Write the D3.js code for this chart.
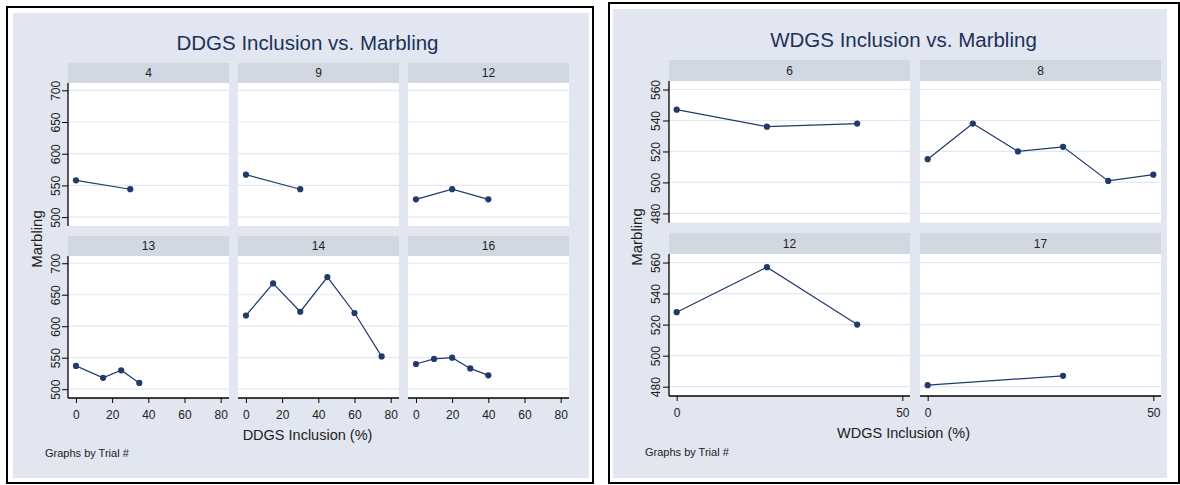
<!DOCTYPE html>
<html>
<head>
<meta charset="utf-8">
<script src="https://cdn.jsdelivr.net/npm/d3@7"></script>
<style>
  html, body { margin: 0; padding: 0; background: #ffffff; }
  svg { display: block; font-family: "Liberation Sans", Arial, sans-serif; }
</style>
</head>
<body>
<svg id="chart" width="1180" height="485"></svg>
<script>
// ---------- DATA ----------
const ddgsTitle = "DDGS Inclusion vs. Marbling";
const ddgsXTitle = "DDGS Inclusion (%)";
const ddgsTrials = ["4", "9", "12", "13", "14", "16"];
const ddgsX = [
  [0, 30],
  [0, 30],
  [0, 20, 40],
  [0, 15, 25, 35],
  [0, 15, 30, 45, 60, 75],
  [0, 10, 20, 30, 40]
];
const ddgsY = [
  [558, 544],
  [567, 544],
  [528, 544, 528],
  [537, 518, 530, 510],
  [617, 668, 623, 678, 621, 552],
  [540, 548, 550, 533, 522]
];
const ddgsXTicks = [0, 20, 40, 60, 80];
const ddgsYTicks = [500, 550, 600, 650, 700];

const wdgsTitle = "WDGS Inclusion vs. Marbling";
const wdgsXTitle = "WDGS Inclusion (%)";
const wdgsTrials = ["6", "8", "12", "17"];
const wdgsX = [
  [0, 20, 40],
  [0, 10, 20, 30, 40, 50],
  [0, 20, 40],
  [0, 30]
];
const wdgsY = [
  [547, 536, 538],
  [515, 538, 520, 523, 501, 505],
  [528, 557, 520],
  [481, 487]
];
const wdgsXTicks = [0, 50];
const wdgsYTicks = [480, 500, 520, 540, 560];

const yAxisTitle = "Marbling";
const byNote = "Graphs by Trial #";

// ---------- STYLE ----------
const C = {
  outerBg: "#e1e6f0",
  strip: "#d2d8e2",
  grid: "#e2e7f1",
  ink: "#1f3a6b",
  title: "#1d3159",
  text: "#222222"
};

const svg = d3.select("#chart");

function drawChart(cfg) {
  const g = svg.append("g");
  // border + background
  g.append("rect").attr("x", cfg.border[0]).attr("y", cfg.border[1])
    .attr("width", cfg.border[2]).attr("height", cfg.border[3])
    .attr("fill", "#fff").attr("stroke", "#000").attr("stroke-width", 2);
  g.append("rect").attr("x", cfg.bg[0]).attr("y", cfg.bg[1])
    .attr("width", cfg.bg[2]).attr("height", cfg.bg[3])
    .attr("fill", C.outerBg);

  // title
  g.append("text").attr("x", cfg.centerX).attr("y", cfg.titleY)
    .attr("text-anchor", "middle").attr("font-size", 20.5).attr("fill", C.title)
    .text(cfg.title);

  const nCols = cfg.cols.length;
  const nRows = cfg.rows.length;

  cfg.trials.forEach((trial, i) => {
    const c = i % nCols, r = Math.floor(i / nCols);
    const x0 = cfg.cols[c], x1 = x0 + cfg.colW;
    const [st, pt, pb] = cfg.rows[r];
    const xs = d3.scaleLinear().domain(cfg.xDomain).range([x0, x1]);
    const ys = d3.scaleLinear().domain(cfg.yDomain).range([pb, pt]);

    // strip
    g.append("rect").attr("x", x0).attr("y", st).attr("width", cfg.colW).attr("height", pt - st)
      .attr("fill", C.strip);
    g.append("text").attr("x", (x0 + x1) / 2).attr("y", st + cfg.stripBase)
      .attr("text-anchor", "middle").attr("font-size", 12).attr("fill", C.text)
      .text(trial);

    // plot region
    g.append("rect").attr("x", x0).attr("y", pt).attr("width", cfg.colW).attr("height", pb - pt)
      .attr("fill", "#fff");
    // grid
    g.append("g").selectAll("line").data(cfg.yTicks).join("line")
      .attr("x1", x0).attr("x2", x1)
      .attr("y1", d => ys(d)).attr("y2", d => ys(d))
      .attr("stroke", C.grid).attr("stroke-width", 1.2);

    // y axis on first column
    if (c === 0) {
      const ya = g.append("g").attr("transform", `translate(${x0},0)`)
        .call(d3.axisLeft(ys).tickValues(cfg.yTicks).tickSize(6).tickPadding(2).tickFormat(d3.format("d")));
      ya.select(".domain").attr("stroke", "#000").attr("stroke-width", 1.3)
        .attr("d", `M0,${pt}V${pb}`);
      ya.selectAll(".tick line").attr("stroke", "#000");
      ya.selectAll(".tick text")
        .attr("font-size", 12).attr("fill", C.text).attr("font-family", null)
        .attr("x", null).attr("dy", null)
        .attr("text-anchor", "middle")
        .attr("transform", `translate(${cfg.yLabelOff},0) rotate(-90)`)
        .attr("y", 0);
    }
    // x axis on bottom row
    if (r === nRows - 1) {
      const xa = g.append("g").attr("transform", `translate(0,${pb})`)
        .call(d3.axisBottom(xs).tickValues(cfg.xTicks).tickSize(5).tickPadding(4).tickFormat(d3.format("d")));
      xa.select(".domain").attr("stroke", "#000").attr("stroke-width", 1.3)
        .attr("d", `M${x0},0H${x1}`);
      xa.selectAll(".tick line").attr("stroke", "#000");
      xa.selectAll(".tick text").attr("font-size", 12).attr("fill", C.text)
        .attr("font-family", null).attr("dy", null).attr("y", 20.5);
    }

    // series
    const pts = cfg.xs[i].map((x, k) => [x, cfg.ys[i][k]]);
    g.append("path").datum(pts)
      .attr("d", d3.line().x(d => xs(d[0])).y(d => ys(d[1])))
      .attr("fill", "none").attr("stroke", C.ink).attr("stroke-width", 1.2);
    g.append("g").selectAll("circle").data(pts).join("circle")
      .attr("cx", d => xs(d[0])).attr("cy", d => ys(d[1])).attr("r", 3.1)
      .attr("fill", C.ink);
  });

  // axis titles
  const lastRow = cfg.rows[nRows - 1];
  g.append("text").attr("x", cfg.centerX).attr("y", lastRow[2] + cfg.xTitleOff)
    .attr("text-anchor", "middle").attr("font-size", 14.5).attr("fill", C.text)
    .text(cfg.xTitle);
  g.append("text")
    .attr("transform", `translate(${cfg.yTitlePos[0]},${cfg.yTitlePos[1]}) rotate(-90)`)
    .attr("text-anchor", "middle").attr("font-size", 15).attr("fill", C.text)
    .text(yAxisTitle);
  g.append("text").attr("x", cfg.notePos[0]).attr("y", cfg.notePos[1])
    .attr("font-size", 11).attr("fill", C.text).text(byNote);
}

drawChart({
  border: [7, 7, 586, 476],
  bg: [13, 13, 576, 465],
  title: ddgsTitle, centerX: 307.5, titleY: 50,
  trials: ddgsTrials, xs: ddgsX, ys: ddgsY,
  cols: [68, 238, 408], colW: 161,
  rows: [[63, 83, 226], [236, 256, 398]],
  stripBase: 14,
  xDomain: [-4.4, 84.6], yDomain: [486, 711.5],
  xTicks: ddgsXTicks, yTicks: ddgsYTicks,
  yLabelOff: -8,
  xTitle: ddgsXTitle, xTitleOff: 42,
  yTitlePos: [42, 239],
  notePos: [45, 457]
});

drawChart({
  border: [609, 3, 570, 480],
  bg: [613, 9, 554, 469],
  title: wdgsTitle, centerX: 903.5, titleY: 47,
  trials: wdgsTrials, xs: wdgsX, ys: wdgsY,
  cols: [669, 920], colW: 241,
  rows: [[60, 81, 222.7], [233, 254, 396]],
  stripBase: 15,
  xDomain: [-1.7, 51.7], yDomain: [474, 565.5],
  xTicks: wdgsXTicks, yTicks: wdgsYTicks,
  yLabelOff: -9,
  xTitle: wdgsXTitle, xTitleOff: 42,
  yTitlePos: [642, 237],
  notePos: [645, 456]
});
</script>
</body>
</html>
